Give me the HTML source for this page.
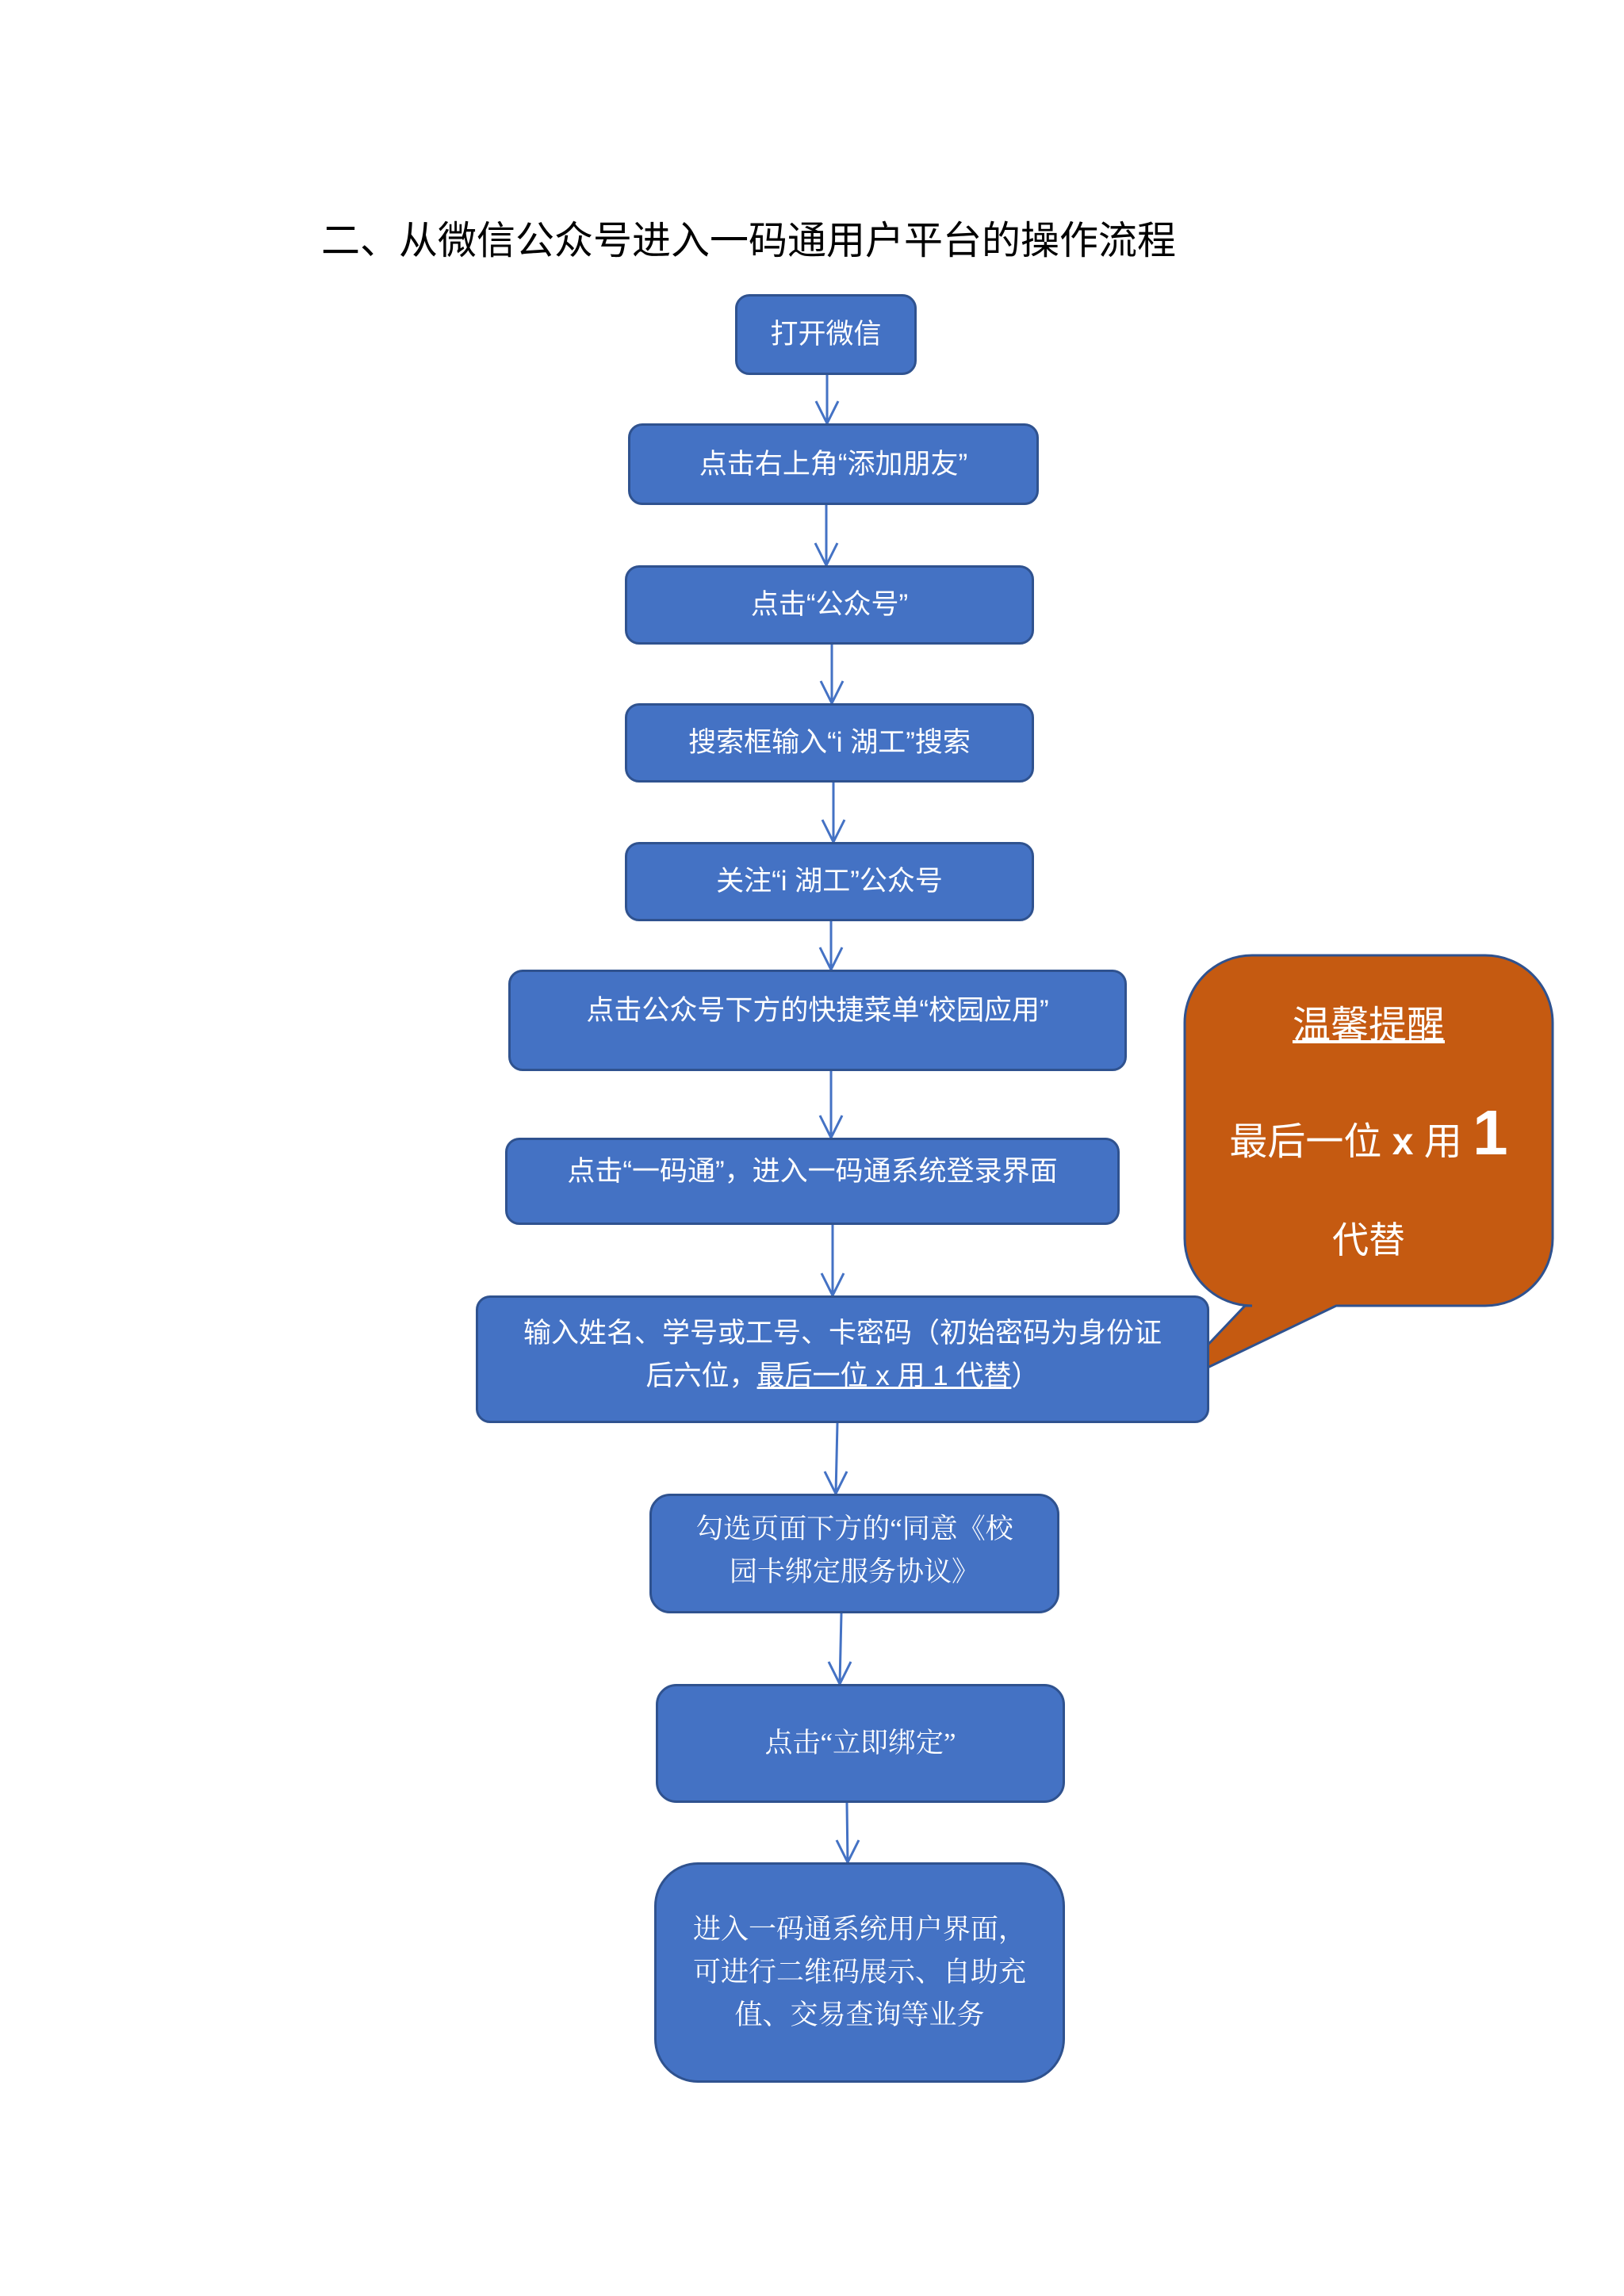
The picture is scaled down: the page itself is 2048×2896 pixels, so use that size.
<!DOCTYPE html>
<html><head><meta charset="utf-8">
<style>
body{margin:0;background:#fff;}
.wrap{position:relative;width:2048px;height:2896px;overflow:hidden;font-family:"Liberation Sans","Noto Sans CJK SC",sans-serif;}
.inner{position:absolute;left:-5px;top:-6px;width:2048px;height:2896px;}
.b{position:absolute;box-sizing:border-box;background:#4472C4;border:3px solid #2F528F;border-radius:18px;color:#fff;display:flex;align-items:center;justify-content:center;text-align:center;font-size:35px;line-height:54px;}
.b>span{display:block;}
.s{font-family:"Liberation Serif","Noto Serif CJK SC",serif;}
.t{position:absolute;left:410px;top:270px;font-size:49px;color:#000;font-family:"Liberation Sans","Noto Sans CJK SC",sans-serif;white-space:nowrap;}
.c{position:absolute;color:#fff;text-align:center;width:464px;left:1499px;}
</style></head><body><div class="wrap"><div class="inner">
<div class="t">二、从微信公众号进入一码通用户平台的操作流程</div>
<svg width="2048" height="2896" style="position:absolute;left:0;top:0">
<g stroke="#4472C4" stroke-width="3" fill="none">
<path d="M1048 479V540M1034 512L1048 540L1062 512"/>
<path d="M1047 643V719M1033 691L1047 719L1061 691"/>
<path d="M1054 819V893M1040 865L1054 893L1068 865"/>
<path d="M1056 993V1068M1042 1040L1056 1068L1070 1040"/>
<path d="M1053 1168V1229M1039 1201L1053 1229L1067 1201"/>
<path d="M1053 1357V1441M1039 1413L1053 1441L1067 1413"/>
<path d="M1055 1551V1640M1041 1612L1055 1640L1069 1612"/>
<path d="M1061 1801L1059 1890M1045 1862L1059 1890L1073 1862"/>
<path d="M1066 2041L1064 2130M1050 2102L1064 2130L1078 2102"/>
<path d="M1073 2280L1074 2355M1060 2327L1074 2355L1088 2327"/>
</g>
<path d="M1585 1211H1878A85 85 0 0 1 1963 1296V1568A85 85 0 0 1 1878 1653H1690L1478 1755L1575 1653H1584A85 85 0 0 1 1499 1568V1296A85 85 0 0 1 1584 1211Z" fill="#C55A11" stroke="#2F528F" stroke-width="3"/>
</svg>
<div class="b" style="left:932px;top:377px;width:229px;height:102px"><span>打开微信</span></div>
<div class="b" style="left:797px;top:540px;width:518px;height:103px"><span>点击右上角“添加朋友”</span></div>
<div class="b" style="left:793px;top:719px;width:516px;height:100px"><span>点击“公众号”</span></div>
<div class="b" style="left:793px;top:893px;width:516px;height:100px"><span>搜索框输入“i 湖工”搜索</span></div>
<div class="b" style="left:793px;top:1068px;width:516px;height:100px"><span>关注“i 湖工”公众号</span></div>
<div class="b" style="left:646px;top:1229px;width:780px;height:128px;padding-bottom:24px"><span>点击公众号下方的快捷菜单“校园应用”</span></div>
<div class="b" style="left:642px;top:1441px;width:775px;height:110px;padding-bottom:24px"><span>点击“一码通”，进入一码通系统登录界面</span></div>
<div class="b" style="left:605px;top:1640px;width:925px;height:161px;padding-bottom:12px"><span style="white-space:nowrap">输入姓名、学号或工号、卡密码（初始密码为身份证<br>后六位，<u>最后一位 x 用 1 代替</u>）</span></div>
<div class="b s" style="left:824px;top:1890px;width:517px;height:151px;border-radius:26px;padding-bottom:8px"><span>勾选页面下方的“同意《校<br>园卡绑定服务协议》</span></div>
<div class="b s" style="left:832px;top:2130px;width:516px;height:150px;border-radius:26px"><span>点击“立即绑定”</span></div>
<div class="b s" style="left:830px;top:2355px;width:518px;height:278px;border-radius:55px"><span>进入一码通系统用户界面，<br>可进行二维码展示、自助充<br>值、交易查询等业务</span></div>
<div class="c" style="top:1270px;font-size:48px;line-height:60px"><u>温馨提醒</u></div>
<div class="c" style="top:1385px;font-size:48px;line-height:100px">最后一位 <b>x</b> 用 <b style="font-size:80px">1</b></div>
<div class="c" style="top:1540px;font-size:46px;line-height:60px">代替</div>
</div></div></body></html>
